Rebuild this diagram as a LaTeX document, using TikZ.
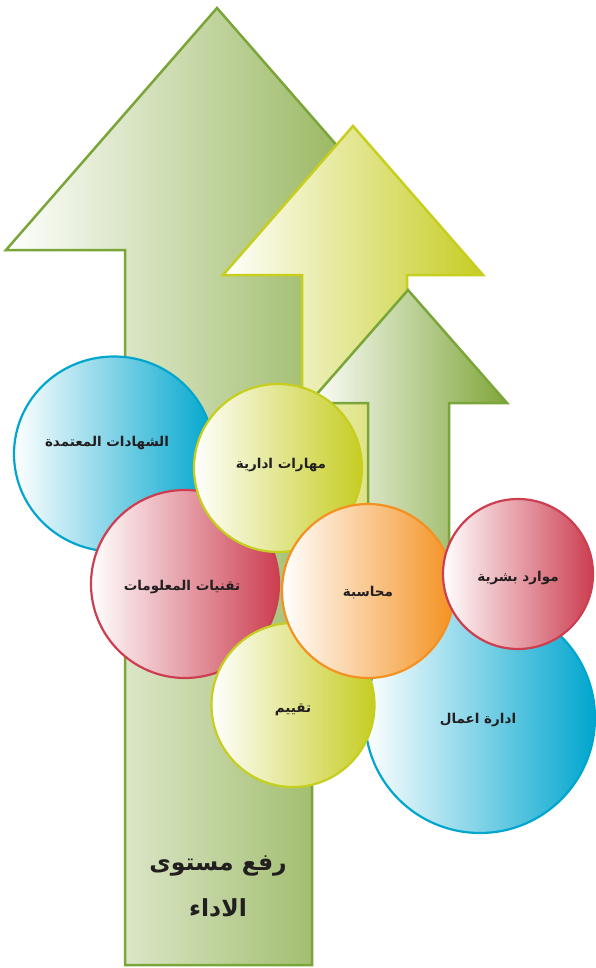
\documentclass[tikz,border=0pt]{standalone}
\usepackage{fontspec}
\usetikzlibrary{shapes.geometric}
\TeXXeTstate=1
\newfontfamily\arabicfont[Script=Arabic]{DejaVu Sans}
\definecolor{gstroke}{RGB}{122,165,56}
\definecolor{gfill}{RGB}{128,166,58}
\definecolor{ystroke}{RGB}{198,206,30}
\definecolor{yfill}{RGB}{198,205,34}
\definecolor{cyanc}{RGB}{0,166,206}
\definecolor{redc}{RGB}{204,62,80}
\definecolor{orangec}{RGB}{244,145,32}
\definecolor{txt}{RGB}{35,31,32}
\tikzset{
  greenarrow/.style={draw=gstroke, line width=2.5pt, line join=miter, left color=white, right color=gfill},
  yellowarrow/.style={draw=ystroke, line width=2.5pt, line join=miter, left color=white, right color=yfill},
  bubble/.style={ellipse, line width=2.2pt, inner sep=0pt},
  cyanbub/.style={bubble, draw=cyanc, left color=white, right color=cyanc},
  redbub/.style={bubble, draw=redc, left color=white, right color=redc},
  yelbub/.style={bubble, draw=ystroke, left color=white, right color=yfill},
  orabub/.style={bubble, draw=orangec, left color=white, right color=orangec},
  lbl/.style={text=txt, font=\arabicfont\bfseries\fontsize{13.5}{16}\selectfont, inner sep=0pt},
  ttl/.style={text=txt, font=\arabicfont\bfseries\fontsize{23.5}{28}\selectfont, inner sep=0pt}
}
\begin{document}
\begin{tikzpicture}[x=1pt,y=-1pt]
\useasboundingbox (0,0) rectangle (595,968);
% big arrow
\path[greenarrow] (217,8) -- (428,250) -- (312,250) -- (312,965) -- (125,965) -- (125,250) -- (6,250) -- cycle;
% yellow arrow
\path[yellowarrow] (353,126) -- (483,275) -- (407,275) -- (407,690) -- (302,690) -- (302,275) -- (223,275) -- cycle;
% small green arrow
\path[greenarrow] (408,290) -- (507,403) -- (449,403) -- (449,700) -- (368,700) -- (368,403) -- (309,403) -- cycle;
% bubbles
\node[cyanbub, minimum width=200pt, minimum height=195pt] (c1) at (114,454) {};
\node[redbub, minimum width=188pt, minimum height=188pt] (c3) at (185,584) {};
\node[yelbub, minimum width=168pt, minimum height=168pt] (c2) at (278,468) {};
\node[cyanbub, minimum width=230pt, minimum height=230pt] (c7) at (480,718) {};
\node[yelbub, minimum width=163pt, minimum height=164pt] (c6) at (293,705) {};
\node[orabub, minimum width=172pt, minimum height=174pt] (c4) at (368,591) {};
\node[redbub, minimum width=150pt, minimum height=150pt] (c5) at (518,574) {};
% labels
\node[lbl] (t1) at (107,443) {\beginR الشهادات المعتمدة\endR};
\node[lbl] (t2) at (281,465) {\beginR مهارات ادارية\endR};
\node[lbl] (t3) at (182,587) {\beginR تقنيات المعلومات\endR};
\node[lbl] (t4) at (368,593) {\beginR محاسبة\endR};
\node[lbl] (t5) at (518,578) {\beginR موارد بشرية\endR};
\node[lbl] (t6) at (293,710) {\beginR تقييم\endR};
\node[lbl] (t7) at (478,720) {\beginR ادارة اعمال\endR};
\node[ttl] (t8) at (218,866) {\beginR رفع مستوى\endR};
\node[ttl] (t9) at (218,908) {\beginR الاداء\endR};
\end{tikzpicture}
\end{document}
